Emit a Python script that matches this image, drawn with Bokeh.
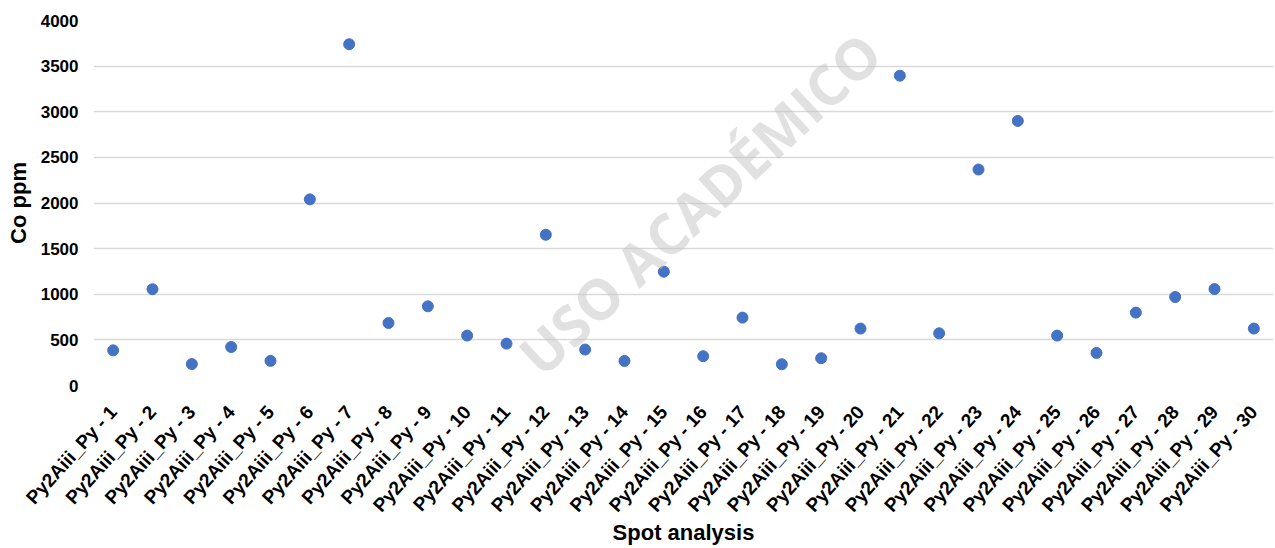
from bokeh.plotting import figure
from bokeh.models import FactorRange, Range1d, FixedTicker, Label, ColumnDataSource
from bokeh.embed import file_html
from bokeh.resources import INLINE
import math

spots = [f"Py2Aiii_Py - {i}" for i in range(1, 31)]
co_ppm = [385, 1055, 235, 422, 270, 2040, 3740, 685, 868, 547,
          459, 1652, 394, 269, 1247, 321, 744, 233, 299, 624,
          3395, 572, 2367, 2899, 547, 357, 799, 970, 1057, 624]
y_ticks = [0, 500, 1000, 1500, 2000, 2500, 3000, 3500, 4000]
watermark = "USO ACADÉMICO"

src = ColumnDataSource(dict(spot=spots, co=co_ppm))

p = figure(width=1275, height=548, x_range=FactorRange(factors=spots),
           y_range=Range1d(0, 4000), output_backend="svg", toolbar_location=None,
           min_border_left=93, min_border_top=20, min_border_right=2, min_border_bottom=10)
p.outline_line_color = None
p.background_fill_color = "white"
p.border_fill_color = "white"

p.scatter("spot", "co", source=src, size=11, color="#4472C4", line_color="#4472C4")

# y axis
p.yaxis.ticker = FixedTicker(ticks=y_ticks)
p.yaxis.axis_line_color = None
p.yaxis.major_tick_line_color = None
p.yaxis.major_tick_out = 0
p.yaxis.minor_tick_line_color = None
p.yaxis.minor_tick_out = 0
p.yaxis.major_label_text_font = "Liberation Sans"
p.yaxis.major_label_text_font_style = "bold"
p.yaxis.major_label_text_font_size = "17px"
p.yaxis.major_label_text_color = "#000000"
p.yaxis.major_label_standoff = 15
p.yaxis.axis_label = "Co ppm"
p.yaxis.axis_label_text_font = "Liberation Sans"
p.yaxis.axis_label_text_font_style = "bold"
p.yaxis.axis_label_text_font_size = "22px"
p.yaxis.axis_label_text_color = "#000000"
p.yaxis.axis_label_standoff = 7

# x axis
p.xaxis.axis_line_color = None
p.xaxis.major_tick_line_color = None
p.xaxis.major_tick_out = 0
p.xaxis.major_label_orientation = math.radians(48)
p.xaxis.major_label_text_font = "Liberation Sans"
p.xaxis.major_label_text_font_style = "bold"
p.xaxis.major_label_text_font_size = "19px"
p.xaxis.major_label_text_color = "#000000"
p.xaxis.major_label_standoff = 23
p.xaxis.axis_label = "Spot analysis"
p.xaxis.axis_label_text_font = "Liberation Sans"
p.xaxis.axis_label_text_font_style = "bold"
p.xaxis.axis_label_text_font_size = "22px"
p.xaxis.axis_label_text_color = "#000000"
p.xaxis.axis_label_standoff = -6

p.xgrid.grid_line_color = None
p.ygrid.grid_line_color = "#d9d9d9"
p.ygrid.grid_line_width = 1.5

wm = Label(x=15.4, y=2000, text=watermark, angle=43, angle_units="deg",
           text_font="Open Sans", text_font_style="bold", text_font_size="56px",
           text_color="#c4c4c4", text_alpha=0.5, text_align="center",
           text_baseline="middle", level="overlay")
p.add_layout(wm)

open("out.html", "w").write(file_html(p, INLINE))
